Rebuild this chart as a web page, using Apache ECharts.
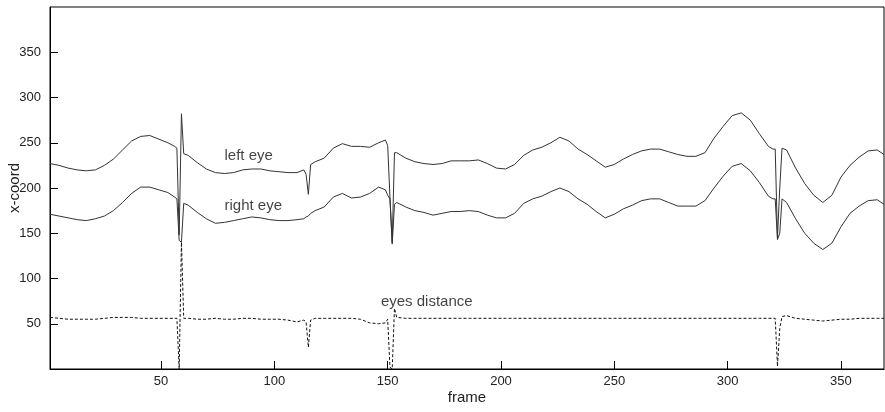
<!DOCTYPE html>
<html>
<head>
<meta charset="utf-8">
<script src="https://cdn.jsdelivr.net/npm/echarts@6/dist/echarts.min.js"></script>
<style>
  html, body { margin: 0; padding: 0; background: #fff; }
  #chart { width: 885px; height: 412px; }
</style>
</head>
<body>
<div id="chart"></div>
<script>
// sampled frames (denser around the blink spikes)
const frames = [
  1, 5, 9, 13, 17, 21, 25, 29, 33, 37, 41, 45, 49, 53, 56, 57, 58, 59, 60, 62,
  66, 70, 74, 78, 82, 86, 90, 94, 98, 102, 106, 110, 113, 114, 115, 116, 118, 122, 126, 130,
  134, 138, 142, 146, 149, 150, 151, 152, 153, 154, 158, 162, 166, 170, 174, 178, 182, 186, 190, 194,
  198, 202, 206, 210, 214, 218, 222, 226, 230, 234, 238, 242, 246, 250, 254, 258, 262, 266, 270, 274,
  278, 282, 286, 290, 294, 298, 302, 306, 310, 314, 318, 320, 321, 322, 323, 324, 326, 330, 334, 338,
  342, 346, 350, 354, 358, 362, 366, 369
];

const leftEye = [
  227, 225, 222, 220, 219, 220, 225, 232, 242, 252, 257, 258, 254, 250, 246, 244, 148, 282, 238, 236,
  228, 221, 217, 216, 217, 220, 221, 221, 219, 218, 217, 217, 220, 215, 193, 226, 229, 233, 244, 249,
  246, 246, 245, 250, 253, 247, 190, 140, 239, 239, 233, 229, 227, 226, 227, 230, 230, 230, 231, 227,
  222, 221, 226, 236, 242, 245, 250, 256, 252, 243, 237, 230, 223, 226, 232, 237, 241, 243, 243, 240,
  237, 235, 235, 239, 255, 268, 280, 283, 275, 260, 246, 243, 243, 145, 200, 244, 242, 222, 205, 192,
  184, 192, 212, 225, 234, 241, 242, 237
];

const rightEye = [
  171, 169, 167, 165, 164, 166, 169, 175, 184, 194, 201, 201, 198, 195, 190, 188, 142, 140, 183, 181,
  173, 166, 161, 162, 164, 166, 168, 167, 165, 164, 164, 165, 166, 168, 169, 172, 175, 179, 190, 194,
  189, 190, 194, 201, 198, 192, 188, 138, 182, 184, 179, 175, 173, 170, 172, 174, 174, 175, 174, 170,
  167, 167, 172, 183, 188, 191, 196, 200, 196, 188, 182, 174, 167, 171, 177, 181, 186, 188, 188, 184,
  180, 180, 180, 186, 200, 213, 224, 227, 219, 206, 191, 188, 188, 143, 150, 188, 184, 166, 150, 139,
  132, 139, 157, 172, 180, 186, 187, 182
];

const eyesDistance = [
  57, 56, 55, 55, 55, 55, 56, 57, 57, 57, 56, 56, 56, 56, 56, 56, 0, 140, 56, 56,
  55, 55, 56, 55, 55, 56, 56, 55, 55, 55, 54, 52, 54, 52, 24, 54, 56, 56, 56, 56,
  56, 55, 51, 50, 51, 55, 2, 0, 67, 57, 56, 56, 56, 56, 56, 56, 56, 56, 56, 56,
  56, 56, 56, 56, 56, 56, 56, 56, 56, 56, 56, 56, 56, 56, 56, 56, 56, 56, 56, 56,
  56, 56, 56, 56, 56, 56, 56, 56, 56, 56, 56, 56, 56, 3, 45, 58, 59, 56, 55, 54,
  53, 54, 55, 55, 56, 56, 56, 56
];

const xTicks = [50, 100, 150, 200, 250, 300, 350];
const yTicks = [50, 100, 150, 200, 250, 300, 350];

// in-plot text annotations: [frame, value]
const annotationNames = ['left eye', 'right eye', 'eyes distance'];
const annotationCoords = [[78, 236], [78, 180], [147, 74]];

const chart = echarts.init(document.getElementById('chart'));

const pairs = (values) => frames.map((f, i) => [f, values[i]]);

const axisText = { color: '#222', fontFamily: 'Liberation Sans', fontSize: 13 };

const option = {
  animation: false,
  backgroundColor: '#fff',
  grid: {
    left: 50,
    right: 1,
    top: 7,
    bottom: 43,
    outerBoundsMode: 'none',
    containLabel: false,
    show: true,
    borderColor: '#000',
    borderWidth: 1
  },
  xAxis: {
    type: 'value',
    min: 1,
    max: 369,
    name: 'frame',
    nameLocation: 'middle',
    nameGap: 21,
    nameMoveOverlap: false,
    nameTextStyle: { color: '#222', fontFamily: 'Liberation Sans', fontSize: 15 },
    axisLine: { lineStyle: { color: '#000' } },
    axisTick: { inside: true, length: 8, customValues: xTicks, lineStyle: { color: '#000' } },
    axisLabel: Object.assign({ customValues: xTicks, margin: 6 }, axisText),
    splitLine: { show: false }
  },
  yAxis: {
    type: 'value',
    min: 0,
    max: 400,
    name: 'x-coord',
    nameLocation: 'middle',
    nameGap: 28,
    nameMoveOverlap: false,
    nameTextStyle: { color: '#222', fontFamily: 'Liberation Sans', fontSize: 15 },
    axisLine: { show: true, lineStyle: { color: '#000' } },
    axisTick: { show: true, inside: true, length: 8, customValues: yTicks, lineStyle: { color: '#000' } },
    axisLabel: Object.assign({ customValues: yTicks, margin: 9 }, axisText),
    splitLine: { show: false }
  },
  series: [
    {
      name: 'left eye',
      type: 'line',
      data: pairs(leftEye),
      showSymbol: false,
      lineStyle: { color: '#333', width: 1 }
    },
    {
      name: 'right eye',
      type: 'line',
      data: pairs(rightEye),
      showSymbol: false,
      lineStyle: { color: '#333', width: 1 }
    },
    {
      name: 'eyes distance',
      type: 'line',
      data: pairs(eyesDistance),
      showSymbol: false,
      lineStyle: { color: '#111', width: 1, type: [3, 2] }
    },
    {
      name: 'labels',
      type: 'scatter',
      symbolSize: 0,
      data: annotationCoords.map((c, i) => ({ name: annotationNames[i], value: c })),
      label: {
        show: true,
        position: 'right',
        distance: 0,
        formatter: (p) => p.name,
        color: '#111',
        fontFamily: 'Liberation Sans',
        fontSize: 15
      }
    }
  ]
};

chart.setOption(option);
</script>
</body>
</html>
